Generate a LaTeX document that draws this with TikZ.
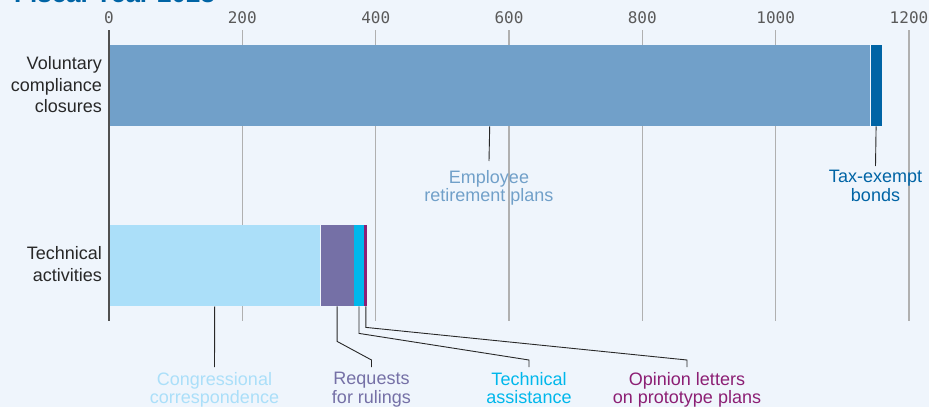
\documentclass[tikz,border=0pt]{standalone}
\usepackage{fontspec}
\setmainfont{Liberation Sans}
\setmonofont{DejaVu Sans Mono}
\definecolor{paper}{RGB}{239,245,252}
\definecolor{gridgray}{RGB}{176,176,176}
\definecolor{zerogray}{RGB}{80,80,80}
\definecolor{tickgray}{RGB}{90,90,90}
\definecolor{rowgray}{RGB}{40,40,40}
\definecolor{leadergray}{RGB}{40,40,40}
\definecolor{titleblue}{RGB}{0,100,165}
\definecolor{empblue}{RGB}{113,160,201}
\definecolor{bondblue}{RGB}{0,100,165}
\definecolor{congblue}{RGB}{171,223,249}
\definecolor{rulpurple}{RGB}{117,112,166}
\definecolor{assistcyan}{RGB}{0,183,235}
\definecolor{opinmagenta}{RGB}{140,31,116}
\begin{document}
\begin{tikzpicture}[x=1pt,y=-1pt,
    grid/.style={draw=gridgray,line width=1.3pt},
    tick/.style={font=\ttfamily\fontsize{16}{16}\selectfont,text=tickgray,anchor=base},
    rowlabel/.style={align=right,anchor=east,inner sep=0pt,
      font=\fontsize{18}{21.5}\selectfont,text=rowgray},
    seg/.style={anchor=north west,inner sep=0pt,minimum height=81pt},
    seglabel/.style={align=center,anchor=north,inner sep=1pt,
      font=\fontsize{18}{18.5}\selectfont},
    leader/.style={draw=leadergray,line width=0.9pt}]
  \fill[paper] (0,0) rectangle (929,407);
  \useasboundingbox (0,0) rectangle (929,407);
  \node[anchor=base west,inner sep=0pt,text=titleblue,
    font=\bfseries\fontsize{26}{26}\selectfont] (title) at (14,2) {Fiscal Year 2023};
  % value axis
  \draw[grid] (242.3,30) -- (242.3,321);
  \draw[grid] (375.7,30) -- (375.7,321);
  \draw[grid] (509,30) -- (509,321);
  \draw[grid] (642.3,30) -- (642.3,321);
  \draw[grid] (775.7,30) -- (775.7,321);
  \draw[grid] (909,30) -- (909,321);
  \draw
    (109,23) node[tick] (t0){0}
    (242.3,23) node[tick] (t200){200}
    (375.7,23) node[tick] (t400){400}
    (509,23) node[tick] (t600){600}
    (642.3,23) node[tick] (t800){800}
    (775.7,23) node[tick] (t1000){1000}
    (909,23) node[tick] (t1200){1200};
  % bars
  \node[seg,fill=empblue,minimum width=761pt] (emp) at (109,45) {};
  \node[seg,fill=bondblue,minimum width=11pt] (teb) at (emp.north east) {};
  \node[seg,fill=congblue,minimum width=211pt] (cc) at (109,225) {};
  \node[seg,fill=rulpurple,minimum width=33pt] (rr) at (cc.north east) {};
  \node[seg,fill=assistcyan,minimum width=10pt] (ta) at (rr.north east) {};
  \node[seg,fill=opinmagenta,minimum width=3pt] (ol) at (ta.north east) {};
  \draw[zerogray,line width=1.3pt] (109,30) -- (109,321);
  % row labels
  \node[rowlabel] (vcc) at (102,85) {Voluntary\\compliance\\closures};
  \node[rowlabel] (tech) at (102,264) {Technical\\activities};
  % segment labels
  \node[seglabel,text=empblue] (emplab) at (489,169) {Employee\\retirement plans};
  \node[seglabel,text=bondblue] (teblab) at (875.5,169) {Tax-exempt\\bonds};
  \node[seglabel,text=congblue] (cclab) at (214.5,371) {Congressional\\correspondence};
  \node[seglabel,text=rulpurple] (rrlab) at (371.5,371) {Requests\\for rulings};
  \node[seglabel,text=assistcyan] (talab) at (529,371) {Technical\\assistance};
  \node[seglabel,text=opinmagenta] (ollab) at (687,371) {Opinion letters\\on prototype plans};
  \begin{scope}[leader]
    \draw (emp.south) -- ([yshift=8pt]emplab.north);
    \draw (teb.south) -- ([yshift=3pt]teblab.north);
    \draw (cc.south) -- ([yshift=4pt]cclab.north);
    \draw (rr.south) -- ++(0,35) -- ([yshift=11pt]rrlab.north) -- ([yshift=4pt]rrlab.north);
    \draw (ta.south) -- ++(0,27) -- ([yshift=11pt]talab.north) -- ([yshift=4pt]talab.north);
    \draw (ol.south) -- ++(0,21) -- ([yshift=11pt]ollab.north) -- ([yshift=4pt]ollab.north);
  \end{scope}
\end{tikzpicture}
\end{document}
